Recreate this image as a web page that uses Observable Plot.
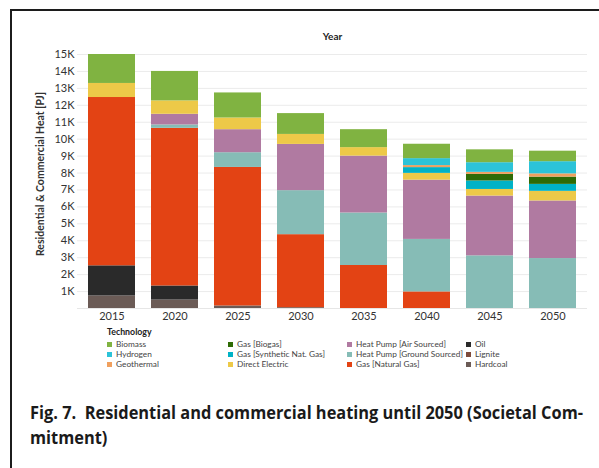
<!DOCTYPE html>
<html>
<head>
<meta charset="utf-8">
<script src="https://cdn.jsdelivr.net/npm/d3@7"></script>
<script src="https://cdn.jsdelivr.net/npm/@observablehq/plot@0.6"></script>
<style>
  html, body { margin: 0; padding: 0; background: #fff; }
  #wrap { position: relative; width: 599px; height: 468px; overflow: hidden; background: #fff; }
  #frame { position: absolute; left: 10px; top: 9px; width: 700px; height: 600px;
           border-left: 2px solid #1c1c1c; border-top: 2px solid #1c1c1c; }
  #chart { position: absolute; left: 0; top: 0; }
  #ylabel { position: absolute; left: 40px; top: 174px; transform: translate(-50%, -50%) rotate(-90deg);
            font-family: Lato, sans-serif; font-weight: bold; font-size: 10.5px; color: #333; white-space: nowrap; }
  #legend { position: absolute; left: 0; top: 0; font-family: Lato, sans-serif; color: #444; }
  #legend .title { position: absolute; left: 107px; top: 327px; font-size: 8.8px; line-height: 10px; font-weight: bold; color: #222; white-space: nowrap; }
  #legend .item { position: absolute; font-size: 8.3px; white-space: nowrap; line-height: 10px; }
  #legend .sw { display: inline-block; width: 5px; height: 5px; margin-right: 4px; vertical-align: 0px; }
  #caption { position: absolute; left: 30px; top: 399px; font-family: "Open Sans", sans-serif;
             font-weight: bold; font-size: 18.5px; line-height: 25px; color: #1a1a1a; white-space: nowrap;
             transform-origin: 0 0; }
  #caption span { display: block; }
</style>
</head>
<body>
<div id="wrap">
  <div id="frame"></div>
  <div id="chart"></div>
  <div id="ylabel">Residential &amp; Commercial Heat [PJ]</div>
  <div id="legend"></div>
  <div id="caption"><span id="cap1">Fig. 7.&nbsp; Residential and commercial heating until 2050 (Societal Com-</span><span>mitment)</span></div>
</div>
<script>
// ---- data (PJ) ----
const years = ["2015", "2020", "2025", "2030", "2035", "2040", "2045", "2050"];
// stack order, bottom to top
const technologies = ["Hardcoal", "Lignite", "Oil", "Gas [Natural Gas]", "Heat Pump [Ground Sourced]",
  "Heat Pump [Air Sourced]", "Direct Electric", "Gas [Synthetic Nat. Gas]", "Gas [Biogas]",
  "Geothermal", "Hydrogen", "Biomass"];
const colors = ["#6b5b56", "#7d4a3a", "#2a2a2a", "#e34314", "#86bcb6",
  "#b07aa1", "#edc948", "#00b2c6", "#2e6b05", "#f0a05e", "#2cc3d8", "#80b341"];

const hardcoal       = [740, 500, 150, 50, 0, 0, 0, 0];
const lignite        = [0, 0, 0, 0, 0, 0, 0, 0];
const oil            = [1780, 830, 0, 0, 0, 0, 0, 0];
const naturalGas     = [9940, 9310, 8180, 4310, 2540, 980, 0, 0];
const hpGround       = [0, 200, 870, 2600, 3100, 3100, 3110, 2950];
const hpAir          = [0, 630, 1360, 2730, 3360, 3500, 3530, 3400];
const directElectric = [830, 790, 690, 590, 500, 400, 390, 570];
const syntheticGas   = [0, 0, 0, 0, 0, 340, 500, 410];
const biogas         = [0, 0, 0, 0, 0, 0, 390, 430];
const geothermal     = [0, 0, 0, 0, 0, 120, 120, 190];
const hydrogen       = [0, 0, 0, 0, 0, 410, 570, 720];
const biomass        = [1710, 1740, 1480, 1230, 1060, 850, 760, 620];

const yTicks = d3.range(1000, 15001, 1000);

const series = [hardcoal, lignite, oil, naturalGas, hpGround, hpAir, directElectric,
  syntheticGas, biogas, geothermal, hydrogen, biomass];

const rows = [];
technologies.forEach((t, i) => {
  years.forEach((y, j) => rows.push({ year: y, tech: t, value: series[i][j] }));
});

const chart = Plot.plot({
  width: 599,
  height: 330,
  marginLeft: 77,
  marginRight: 12,
  marginTop: 54,
  marginBottom: 22,
  style: { fontFamily: "Lato, sans-serif", fontSize: "11px", color: "#333", background: "transparent" },
  x: { domain: years, paddingInner: 0.25, paddingOuter: 0.125, label: null },
  y: { domain: [0, 15000], label: null },
  color: { domain: technologies, range: colors },
  marks: [
    Plot.gridY(yTicks, { stroke: "#ebebeb", strokeOpacity: 1 }),
    Plot.ruleY([0], { stroke: "#e6e6e6" }),
    Plot.barY(rows, { x: "year", y: "value", fill: "tech", order: technologies }),
    Plot.axisY(yTicks, { tickSize: 0, tickPadding: 3, tickFormat: d => d / 1000 + "K", label: null, fill: "#333" }),
    Plot.axisX({ tickSize: 0, tickPadding: 4, label: null, fill: "#333" }),
    Plot.text(["Year"], { text: d => d, frameAnchor: "top", dy: -22, fontWeight: "bold", fontSize: 10, fill: "#222" })
  ]
});
document.getElementById("chart").appendChild(chart);

// legend, column-major, top of stack first
const legendOrder = technologies.slice().reverse();
const colX = [107, 228, 347, 466];
const rowY = [339, 349, 359];
const legend = document.getElementById("legend");
const title = document.createElement("div");
title.className = "title";
title.textContent = "Technology";
legend.appendChild(title);
legendOrder.forEach((t, k) => {
  const c = Math.floor(k / 3), r = k % 3;
  const item = document.createElement("div");
  item.className = "item";
  item.style.left = colX[c] + "px";
  item.style.top = rowY[r] + "px";
  const sw = document.createElement("span");
  sw.className = "sw";
  sw.style.background = colors[technologies.indexOf(t)];
  item.appendChild(sw);
  item.appendChild(document.createTextNode(t));
  legend.appendChild(item);
});

// condense caption so its first line spans the same width as in the reference
const cap1 = document.getElementById("cap1");
const range = document.createRange();
range.selectNodeContents(cap1);
const w = range.getBoundingClientRect().width;
if (w > 0) document.getElementById("caption").style.transform = "scaleX(" + (553 / w) + ")";
</script>
</body>
</html>
